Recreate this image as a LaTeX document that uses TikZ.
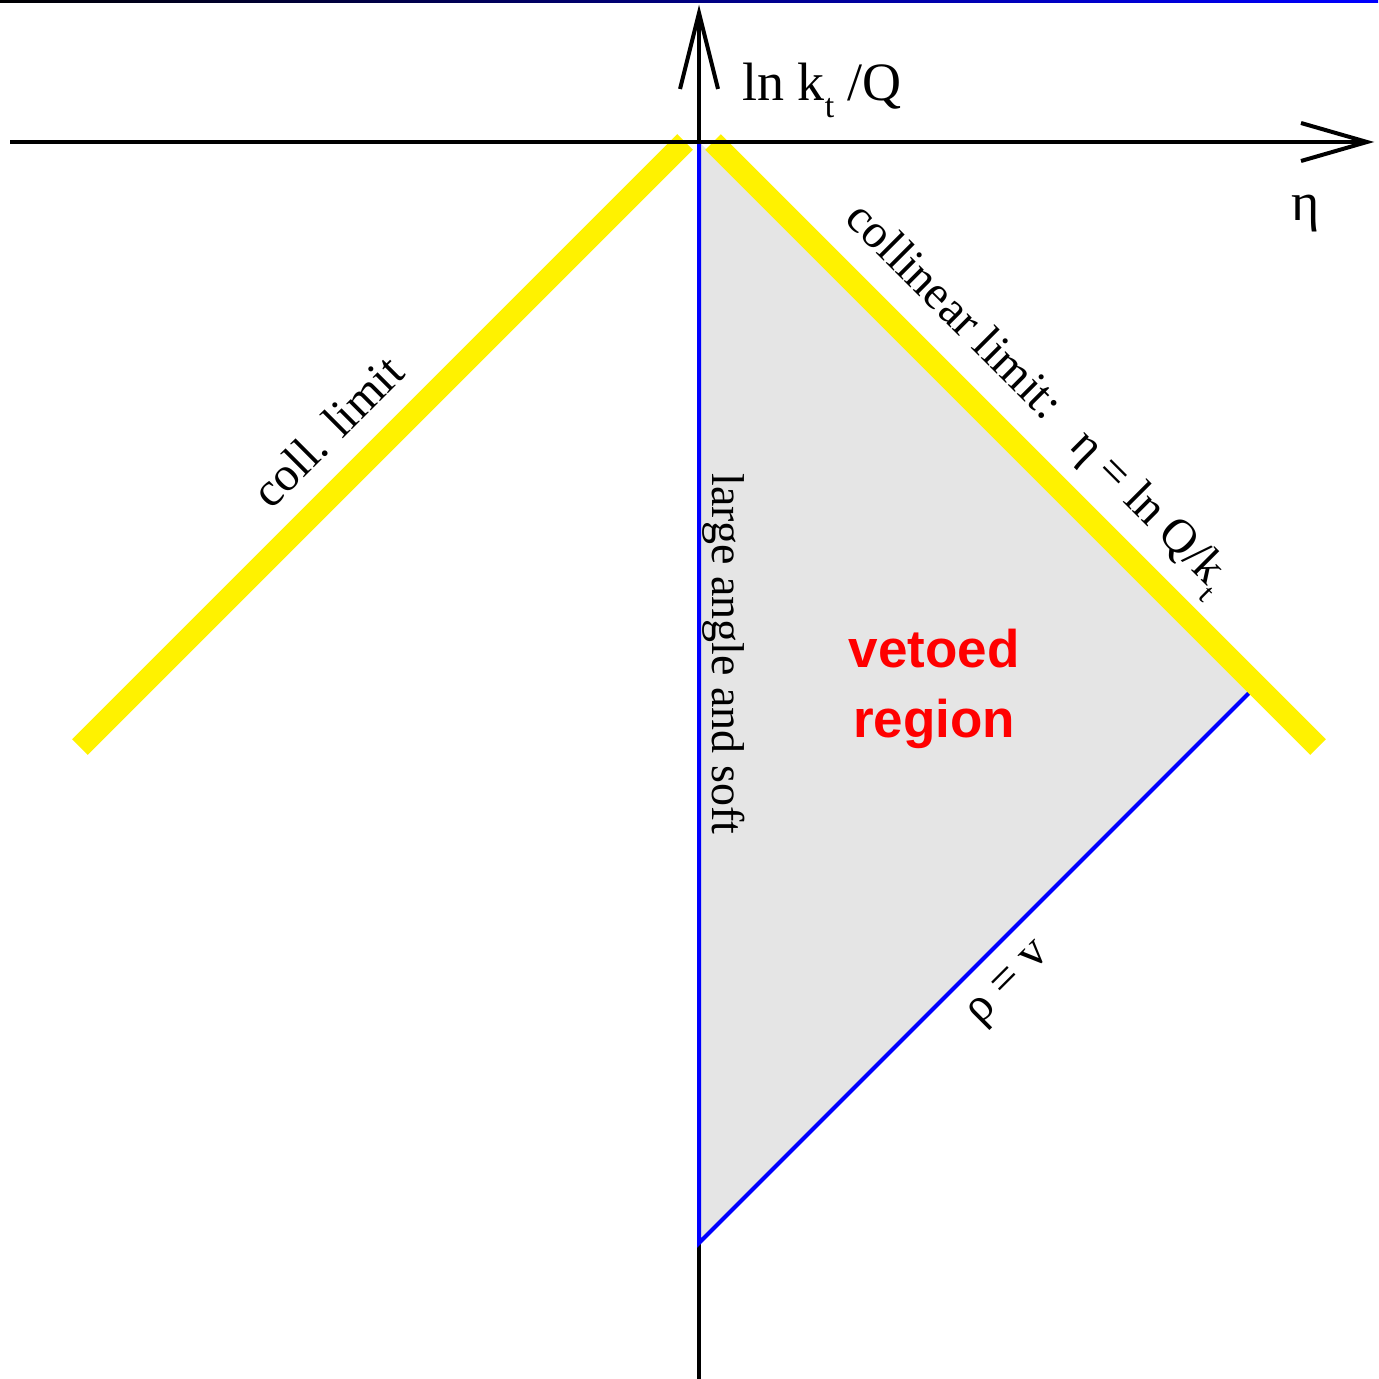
\documentclass[tikz,border=0pt]{standalone}
\usepackage{fontspec}
\setmainfont{Liberation Serif}
\newfontfamily\helv{Liberation Sans}
\usetikzlibrary{calc}
\newcommand\lsub[3]{\raisebox{-#3}{\fontsize{#1}{#1}\selectfont #2}}
\begin{document}
\begin{tikzpicture}[x=0.5pt,y=-0.5pt,
  axis/.style={line width=2pt,black},
  barb/.style={line width=2pt,black,line join=miter},
  softline/.style={line width=2pt,blue},
  collline/.style={line width=11pt,yellow},
  lbl/.style={font=\fontsize{24}{28}\selectfont,inner sep=0pt},
  lblbig/.style={font=\fontsize{27}{30}\selectfont,inner sep=0pt},
  veto/.style={font=\helv\bfseries\fontsize{26.5}{30}\selectfont,text=red,inner sep=0pt}]
\useasboundingbox (0,0) rectangle (1378,1379);
\shade[left color=black,right color=blue] (0,0) rectangle (1378,2.5);
% coordinates
\coordinate (O) at (699,142);
\coordinate (B) at (699,1243);
\coordinate (R) at (1250,692);
\coordinate (vbot) at (699,1379);
\coordinate (vtip) at (699,13);
\coordinate (hl) at (10,142);
\coordinate (htip) at (1367,142);
\coordinate (ylA) at (685,142);
\coordinate (ylB) at (80,747);
\coordinate (yrA) at (713,142);
\coordinate (yrB) at (1318,747);
% vetoed region
\fill[black!10] (O) -- (B) -- (R) -- cycle;
% vertical axis
\draw[axis] (vbot) -- (vtip);
\draw[barb] ($(vtip)+(-19,76)$) -- (vtip) -- ($(vtip)+(19,76)$);
% blue boundaries
\draw[softline] (O) -- (B) -- (R);
% collinear limits
\draw[collline] (ylA) -- (ylB);
\draw[collline] (yrA) -- (yrB);
% horizontal axis
\draw[axis] (hl) -- (htip);
\draw[barb] ($(htip)+(-66,-19)$) -- (htip) -- ($(htip)+(-66,19)$);
% labels
\node[lblbig,anchor=base west] (ylab) at (742,101) {ln k\lsub{17}{t}{8.5pt} /Q};
\node[lblbig,anchor=base] (xlab) at (1306,221) {η};
\node[lbl,anchor=base,rotate=45] (colll) at (339,443) {coll. limit};
\node[lbl,anchor=base,rotate=-45] (collr) at (944,321) {collinear limit:};
\node[lbl,anchor=base,rotate=-45] (colleq) at (1141,520) {η = ln Q/k\lsub{15}{t}{7.5pt}};
\node[lbl,font=\fontsize{23}{28}\selectfont,anchor=base,rotate=-90] (soft) at (712,654) {large angle and soft};
\node[lbl,anchor=base,rotate=45] (rhov) at (1015,990) {ρ = v};
\node[veto,anchor=base] (veto1) at (934,667) {vetoed};
\node[veto,anchor=base] (veto2) at (934,737) {region};
\end{tikzpicture}
\end{document}
